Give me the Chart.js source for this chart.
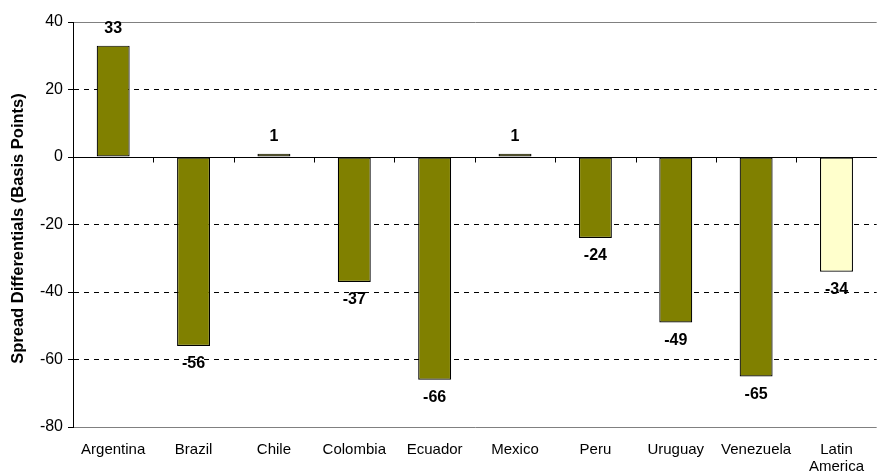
<!DOCTYPE html>
<html>
<head>
<meta charset="utf-8">
<script src="https://cdn.jsdelivr.net/npm/chart.js@4/dist/chart.umd.min.js"></script>
<style>
  html, body { margin: 0; padding: 0; background: #fff; }
  #wrap { width: 879px; height: 472px; position: relative; }
</style>
</head>
<body>
<div id="wrap"><canvas id="spread"></canvas></div>
<script>
// ===== Data =====
const countries = ['Argentina', 'Brazil', 'Chile', 'Colombia', 'Ecuador', 'Mexico', 'Peru', 'Uruguay', 'Venezuela', ['Latin', 'America']];
const spreadDiff = [33, -56, 1, -37, -66, 1, -24, -49, -65, -34];
const barColors = ['#808000', '#808000', '#808000', '#808000', '#808000', '#808000', '#808000', '#808000', '#808000', '#FFFFCC'];
const yTitle = 'Spread Differentials (Basis Points)';

const FONT = 'Arial, "Liberation Sans", sans-serif';

// value labels + zero line with category tick marks + y title
const labelPlugin = {
  id: 'valueLabels',
  afterDatasetsDraw(chart) {
    const { ctx, chartArea, scales: { x, y } } = chart;
    const zy = Math.round(y.getPixelForValue(0)) + 0.5;
    ctx.save();
    ctx.strokeStyle = '#000';
    ctx.lineWidth = 1;
    ctx.beginPath();
    ctx.moveTo(chartArea.left, zy);
    ctx.lineTo(chartArea.right, zy);
    for (let i = 0; i < countries.length - 1; i++) {
      const bx = Math.round((x.getPixelForValue(i) + x.getPixelForValue(i + 1)) / 2) + 0.5;
      ctx.moveTo(bx, zy);
      ctx.lineTo(bx, zy + 5);
    }
    ctx.stroke();

    ctx.font = 'bold 16px ' + FONT;
    ctx.fillStyle = '#000';
    ctx.textAlign = 'center';
    ctx.textBaseline = 'middle';
    chart.getDatasetMeta(0).data.forEach((bar, i) => {
      const v = spreadDiff[i];
      const ty = v >= 0 ? bar.y - 17 : bar.y + 18;
      ctx.fillText(String(v), bar.x, ty);
    });

    // axis title
    ctx.translate(18, (chartArea.top + chartArea.bottom) / 2 + 4);
    ctx.rotate(-Math.PI / 2);
    ctx.font = 'bold 16.5px ' + FONT;
    ctx.fillText(yTitle, 0, 0);
    ctx.restore();
  }
};

new Chart(document.getElementById('spread'), {
  type: 'bar',
  data: {
    labels: countries,
    datasets: [{
      data: spreadDiff,
      backgroundColor: barColors,
      borderColor: '#000',
      borderWidth: 1.2,
      borderSkipped: false,
      categoryPercentage: 1,
      barPercentage: 0.41
    }]
  },
  options: {
    responsive: true,
    maintainAspectRatio: false,
    animation: false,
    layout: { padding: { top: 22, right: 0, left: 0, bottom: 0 } },
    plugins: { legend: { display: false }, tooltip: { enabled: false } },
    scales: {
      x: {
        grid: { display: false, drawTicks: false },
        border: { display: false },
        ticks: { color: '#000', font: { family: FONT, size: 15, lineHeight: 1.1 }, padding: 15, maxRotation: 0, autoSkip: false },
        afterFit: s => { s.height = 45; }
      },
      y: {
        min: -80,
        max: 40,
        ticks: { stepSize: 20, color: '#000', font: { family: FONT, size: 16 }, padding: 5 },
        grid: {
          color: c => (c.tick && (c.tick.value === 40 || c.tick.value === -80)) ? '#808080' : '#000',
          tickColor: '#000',
          tickLength: 5
        },
        border: {
          display: true,
          color: '#000',
          dash: c => (c.tick && c.tick.value !== 40 && c.tick.value !== -80 && c.tick.value !== 0) ? [5, 5] : []
        },
        title: { display: false },
        afterFit: s => { s.width = 73; }
      }
    }
  },
  plugins: [labelPlugin]
});
</script>
</body>
</html>
